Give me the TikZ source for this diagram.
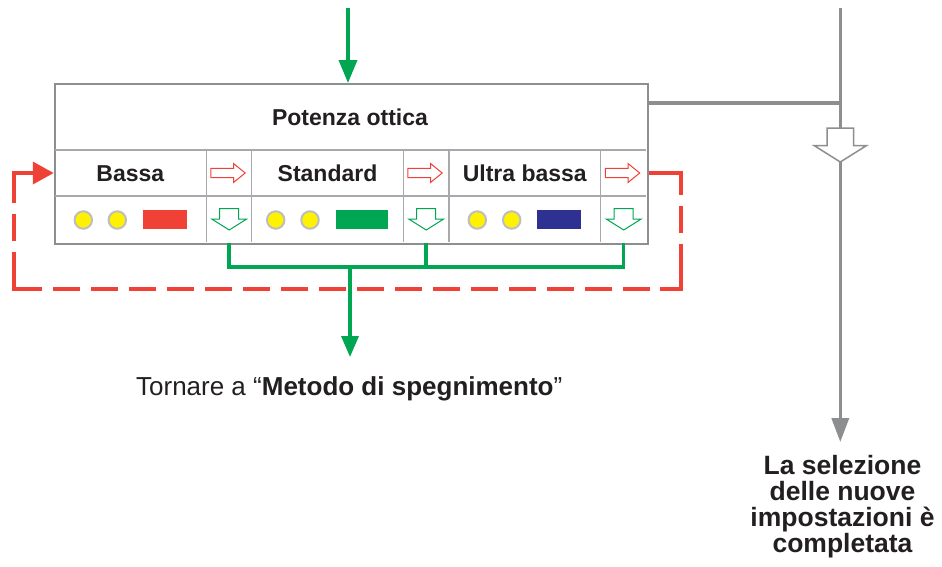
\documentclass[tikz,border=0pt]{standalone}
\usepackage{fontspec}
\setmainfont{Liberation Sans}
\usetikzlibrary{arrows.meta}
\definecolor{tgreen}{HTML}{00A651}
\definecolor{tred}{HTML}{EF4136}
\definecolor{tblue}{HTML}{2E3192}
\definecolor{tgray}{HTML}{8D8E90}
\definecolor{tgrid}{HTML}{A7A9AC}
\definecolor{tyellow}{HTML}{FFF200}
\definecolor{tcirc}{HTML}{BCBEC0}
\definecolor{ttext}{HTML}{231F20}
\tikzset{
  lbl/.style={font=\fontsize{23}{26}\selectfont\bfseries, text=ttext, inner sep=0pt,
    text height=16.5pt, text depth=0pt},
  cellbox/.style={inner sep=0pt, minimum height=46pt},
  gridline/.style={draw=tgrid, line width=1.2pt},
  frame/.style={draw=tgray, line width=2.2pt},
  gline/.style={draw=tgreen, line width=3.5pt},
  grayline/.style={draw=tgray, line width=3.6pt},
  redline/.style={draw=tred, line width=3.8pt},
  reddash/.style={draw=tred, line width=3.8pt, dash pattern=on 27pt off 11pt, dash phase=27pt},
  lamp/.style={circle, fill=tyellow, draw=tcirc, line width=2pt, minimum size=17.5pt, inner sep=0pt},
  swatch/.style={minimum height=19.5pt, inner sep=0pt},
  nextarrow/.pic={\draw[tred, line width=1pt, fill=white]
     (-18.3,-4.7) -- (4.3,-4.7) -- (4.3,-9.5) -- (16,0) -- (4.3,9.5) -- (4.3,4.7) -- (-18.3,4.7) -- cycle;},
  downarrow/.pic={\draw[tgreen, line width=1pt, fill=white]
     (-9.5,-11) -- (9.5,-11) -- (9.5,-0.5) -- (17.5,-0.5) -- (0,10.5) -- (-17.5,-0.5) -- (-9.5,-0.5) -- cycle;},
  bigdown/.pic={\draw[tgray, line width=1.5pt, fill=white]
     (-13.3,-17) -- (13.3,-17) -- (13.3,0.7) -- (26,0.7) -- (0,17) -- (-26,0.7) -- (-13.3,0.7) -- cycle;}
}
\begin{document}
\begin{tikzpicture}[x=1pt,y=-1pt]
\useasboundingbox (0,0) rectangle (942,566);

% table frame
\node[frame, minimum width=593pt, minimum height=160pt, inner sep=0pt, anchor=north west] (tbl) at (54,83) {};
% grid
\draw[gridline] (55,150) -- (646,150);
\draw[gridline] (55,196) -- (646,196);
\foreach \x in {206.7,251.7,403.3,449,600.7} \draw[gridline] (\x,150) -- (\x,242);

% header and cells
\node[lbl] (pot) at (350,117) {Potenza ottica};
\node[lbl, cellbox, minimum width=152.7pt] (bassa) at (130.3,173) {Bassa};
\node[lbl, cellbox, minimum width=151.6pt] (std) at (327.5,173) {Standard};
\node[lbl, cellbox, minimum width=151.7pt] (ultra) at (524.8,173) {Ultra bassa};

% arrow cells (bottom row)
\node[cellbox, minimum width=45pt] (dA) at (229.2,219.5) {};
\node[cellbox, minimum width=45pt] (dB) at (426.2,219.5) {};
\node[cellbox, minimum width=45pt] (dC) at (623.7,219.5) {};

\pic (nA) at (229.2,173) {nextarrow};
\pic (nB) at (426.2,173) {nextarrow};
\pic (nC) at (623.7,173) {nextarrow};
\pic (gA) at (dA) {downarrow};
\pic (gB) at (dB) {downarrow};
\pic (gC) at (dC) {downarrow};

% lamps and swatches
\node[lamp] (l1) at (83.3,220) {};
\node[lamp] (l2) at (117.3,220) {};
\node[swatch, fill=tred, minimum width=44pt] (s1) at (165,219.7) {};
\node[lamp] (l3) at (275.7,220) {};
\node[lamp] (l4) at (310,220) {};
\node[swatch, fill=tgreen, minimum width=52.6pt] (s2) at (362,219.7) {};
\node[lamp] (l5) at (477.3,220) {};
\node[lamp] (l6) at (511.7,220) {};
\node[swatch, fill=tblue, minimum width=43.7pt] (s3) at (559.2,219.7) {};

% green entry arrow
\coordinate (gin) at (348,8);
\draw[gline, -{Triangle[length=23pt,width=18pt]}] (gin) -- (gin |- tbl.north);

% green return connectors
\coordinate (bus) at (350,267);
\coordinate (rettip) at (350,357);
\draw[gline] (dA.south) |- (dC.south |- bus) -- (dC.south);
\draw[gline] (dB.south) -- (dB.south |- bus);
\draw[gline, -{Triangle[length=21pt,width=17pt]}] (bus) -- (rettip);
\node[font=\fontsize{26}{30}\selectfont, text=ttext, inner sep=0pt, anchor=base] (ret) at (349.2,395)
  {Tornare a “\textbf{Metodo di spegnimento}”};

% gray path
\coordinate (gj) at (840.3,103);
\coordinate (gtop) at (840.3,8);
\coordinate (gend) at (840.3,442);
\draw[grayline] (tbl.east |- gj) -- (gj);
\draw[grayline] (gtop) -- (840.3,128);
\pic (big) at (840.3,145) {bigdown};
\draw[grayline, -{Triangle[length=24pt,width=17pt]}] (840.3,162) -- (gend);
\node[font=\fontsize{26.5}{26}\selectfont\bfseries, text=ttext, align=center, inner sep=0pt, anchor=base] (done) at (842.5,552)
  {La selezione\\delle nuove\\impostazioni è\\completata};

% red dashed loop
\coordinate (rs) at (tbl.east |- bassa);
\coordinate (rc1) at (681,173);
\coordinate (rc2) at (681,289);
\coordinate (rc3) at (14,289);
\coordinate (rc4) at (14,173);
\draw[redline] (rs) -- (rc1) -- (681,195);
\draw[redline] (681,268) -- (rc2) -- (660,289);
\draw[redline] (38,289) -- (rc3) -- (14,262);
\draw[reddash] (681,195) -- (rc2) -- (rc3) -- (14,200);
\draw[redline, -{Triangle[length=21pt,width=22pt]}] (14,200) -- (rc4) -- (bassa.west);
\end{tikzpicture}
\end{document}
